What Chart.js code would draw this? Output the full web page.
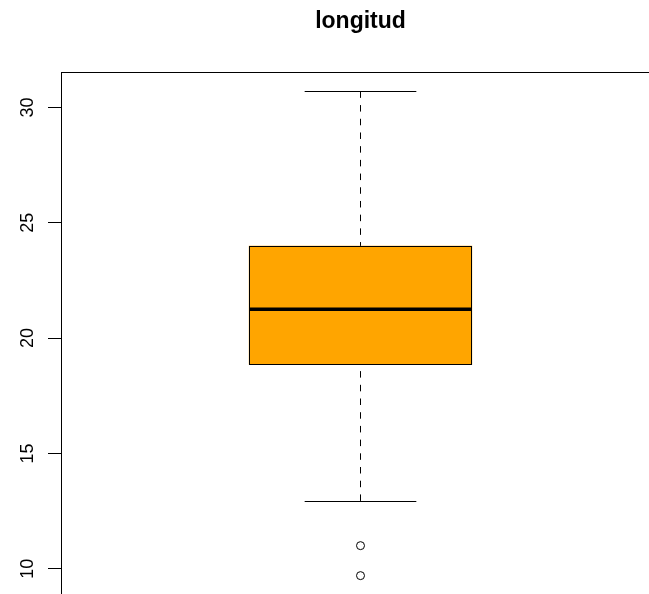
<!DOCTYPE html>
<html>
<head>
<meta charset="utf-8">
<script src="https://cdn.jsdelivr.net/npm/chart.js@4/dist/chart.umd.min.js"></script>
<style>
  html, body { margin: 0; padding: 0; background: #ffffff; }
  #wrap { width: 649px; height: 594px; overflow: hidden; position: relative; background: #ffffff; }
  canvas { display: block; }
</style>
</head>
<body>
<div id="wrap"><canvas id="c" width="700" height="600"></canvas></div>
<script>
// ---- data ----
const chartTitle = 'longitud';
const categories = ['longitud'];
const q1 = [18.84];
const medians = [21.25];
const q3 = [24.0];
const whiskerLow = [12.94];
const whiskerHigh = [30.7];
const outliers = [11.0, 9.7];
const yTicks = [10, 15, 20, 25, 30];
const yRange = [8.86, 31.54];

const boxData = categories.map((c, i) => [q1[i], q3[i]]);
const upperWhisker = categories.map((c, i) => [{x: c, y: whiskerHigh[i]}, {x: c, y: q3[i]}]).flat();
const lowerWhisker = categories.map((c, i) => [{x: c, y: whiskerLow[i]}, {x: c, y: q1[i]}]).flat();
const outlierPts = outliers.map(v => ({x: categories[0], y: v}));

const FONT = '"Liberation Sans", Arial, Helvetica, sans-serif';

const boxPlugin = {
  id: 'boxExtras',
  afterDatasetsDraw(chart) {
    const ctx = chart.ctx;
    const y = chart.scales.y;
    const meta = chart.getDatasetMeta(0);
    ctx.save();
    ctx.strokeStyle = '#000';
    meta.data.forEach((bar, i) => {
      const half = bar.width / 2;
      // crisp box outline from the bar element geometry
      ctx.lineWidth = 1;
      const bl = Math.round(bar.x - half) + 0.5;
      const br = Math.round(bar.x + half) - 0.5;
      const bt = Math.round(Math.min(bar.y, bar.base)) + 0.5;
      const bb = Math.round(Math.max(bar.y, bar.base)) - 0.5;
      ctx.strokeRect(bl, bt, br - bl, bb - bt);
      // median
      ctx.lineWidth = 3.5;
      ctx.lineCap = 'butt';
      const ym = y.getPixelForValue(medians[i]);
      ctx.beginPath();
      ctx.moveTo(bl - 0.5, ym);
      ctx.lineTo(br + 0.5, ym);
      ctx.stroke();
      // staples
      ctx.lineWidth = 1;
      [whiskerHigh[i], whiskerLow[i]].forEach(v => {
        const yy = Math.round(y.getPixelForValue(v)) + 0.5;
        ctx.beginPath();
        ctx.moveTo(bar.x - half / 2, yy);
        ctx.lineTo(bar.x + half / 2, yy);
        ctx.stroke();
      });
    });
    ctx.restore();
  },
  afterDraw(chart) {
    const ctx = chart.ctx;
    const a = chart.chartArea;
    const y = chart.scales.y;
    ctx.save();
    // plot frame
    ctx.strokeStyle = '#000';
    ctx.lineWidth = 1;
    const l = Math.round(a.left) + 0.5, t = Math.round(a.top) + 0.5;
    ctx.strokeRect(l, t, Math.round(a.right) - Math.round(a.left), Math.round(a.bottom) - Math.round(a.top));
    // rotated tick labels
    ctx.fillStyle = '#000';
    ctx.font = '18px ' + FONT;
    ctx.textAlign = 'center';
    ctx.textBaseline = 'alphabetic';
    yTicks.forEach(v => {
      const py = y.getPixelForValue(v);
      ctx.save();
      ctx.translate(33, py);
      ctx.rotate(-Math.PI / 2);
      ctx.fillText(String(v), 0, 0);
      ctx.restore();
    });
    // title centred over the plot region
    ctx.font = 'bold 23px ' + FONT;
    ctx.textAlign = 'center';
    ctx.fillText(chartTitle, (a.left + a.right) / 2, 28);
    ctx.restore();
  }
};

new Chart(document.getElementById('c'), {
  type: 'bar',
  data: {
    labels: categories,
    datasets: [
      {
        type: 'bar',
        data: boxData,
        backgroundColor: '#FFA500',
        borderWidth: 0,
        borderSkipped: false,
        categoryPercentage: 1.0,
        barPercentage: 0.3729,
        order: 2
      },
      {
        type: 'line',
        data: upperWhisker,
        borderColor: '#000000',
        borderWidth: 1,
        borderDash: [6.5, 7.2],
        pointRadius: 0,
        fill: false,
        order: 1
      },
      {
        type: 'line',
        data: lowerWhisker,
        borderColor: '#000000',
        borderWidth: 1,
        borderDash: [6.5, 7.2],
        pointRadius: 0,
        fill: false,
        order: 1
      },
      {
        type: 'line',
        data: outlierPts,
        showLine: false,
        pointStyle: 'circle',
        pointRadius: 4,
        pointBorderWidth: 1,
        pointBorderColor: '#000000',
        pointBackgroundColor: 'rgba(0,0,0,0)',
        order: 0
      }
    ]
  },
  options: {
    responsive: false,
    animation: false,
    devicePixelRatio: 1,
    layout: { padding: { left: 0, right: 40, top: 72, bottom: 5 } },
    plugins: { legend: { display: false }, tooltip: { enabled: false }, title: { display: false } },
    scales: {
      x: {
        type: 'category',
        offset: true,
        display: false
      },
      y: {
        type: 'linear',
        min: yRange[0],
        max: yRange[1],
        afterBuildTicks: s => { s.ticks = yTicks.map(v => ({ value: v })); },
        afterFit: s => { s.width = 61; },
        ticks: { display: false },
        border: { display: false },
        grid: {
          display: true,
          drawOnChartArea: false,
          drawTicks: true,
          tickLength: 13,
          color: '#000000',
          lineWidth: 1
        }
      }
    }
  },
  plugins: [boxPlugin]
});
</script>
</body>
</html>
